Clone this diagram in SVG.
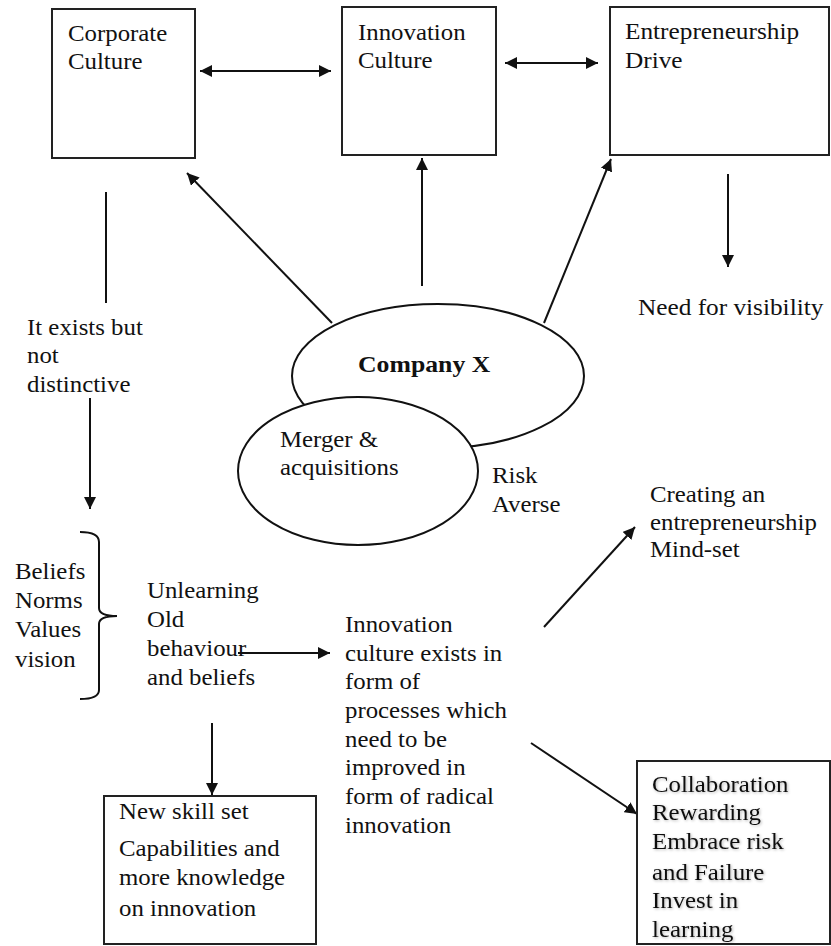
<svg xmlns="http://www.w3.org/2000/svg" width="831" height="946" viewBox="0 0 831 946">
<style>
.t{font-family:"Liberation Serif","Times New Roman",serif;font-size:23px;fill:#111}
.b{font-weight:bold}
.box{fill:#fff;stroke:#222;stroke-width:2}
.ell{fill:#fff;stroke:#111;stroke-width:2}
.ln{fill:none;stroke:#111;stroke-width:2}
</style>
<defs>
<marker id="ah" markerUnits="userSpaceOnUse" markerWidth="13" markerHeight="12" refX="12" refY="6" orient="auto-start-reverse">
<path d="M0,0 L12,6 L0,12 z" fill="#111"/>
</marker>
<filter id="sh" x="-10%" y="-30%" width="130%" height="160%">
<feGaussianBlur in="SourceAlpha" stdDeviation="1.5"/>
<feOffset dx="1" dy="1" result="bl"/>
<feComponentTransfer><feFuncA type="linear" slope="0.3"/></feComponentTransfer>
<feMerge><feMergeNode/><feMergeNode in="SourceGraphic"/></feMerge>
</filter>
</defs>

<g id="connectors">
<line class="ln" x1="200" y1="71" x2="331" y2="71" marker-start="url(#ah)" marker-end="url(#ah)"/>
<line class="ln" x1="505" y1="63" x2="598" y2="63" marker-start="url(#ah)" marker-end="url(#ah)"/>
<line class="ln" x1="332" y1="323" x2="187" y2="173" marker-end="url(#ah)"/>
<line class="ln" x1="422" y1="286" x2="422" y2="158" marker-end="url(#ah)"/>
<line class="ln" x1="544" y1="323" x2="611" y2="159" marker-end="url(#ah)"/>
<line class="ln" x1="728" y1="174" x2="728" y2="267" marker-end="url(#ah)"/>
<line class="ln" x1="106" y1="192" x2="106" y2="303"/>
<line class="ln" x1="90" y1="398" x2="90" y2="509" marker-end="url(#ah)"/>
<line class="ln" x1="238" y1="653" x2="330" y2="653" marker-end="url(#ah)"/>
<line class="ln" x1="212" y1="723" x2="212" y2="795" marker-end="url(#ah)"/>
<line class="ln" x1="544" y1="627" x2="635" y2="527" marker-end="url(#ah)"/>
<line class="ln" x1="531" y1="743" x2="637" y2="814" marker-end="url(#ah)"/>
</g>

<g id="corporate-culture">
<rect class="box" x="52" y="9" width="143" height="149"/>
<text class="t" transform="translate(68,41) scale(1.08 1)"><tspan x="0">Corporate</tspan><tspan x="0" dy="28">Culture</tspan></text>
</g>

<g id="innovation-culture">
<rect class="box" x="342" y="7" width="154" height="148"/>
<text class="t" transform="translate(358,40) scale(1.08 1)"><tspan x="0">Innovation</tspan><tspan x="0" dy="28">Culture</tspan></text>
</g>

<g id="entrepreneurship-drive">
<rect class="box" x="610" y="7" width="219" height="148"/>
<text class="t" transform="translate(625,39) scale(1.1 1)"><tspan x="0">Entrepreneurship</tspan><tspan x="0" dy="29">Drive</tspan></text>
</g>

<g id="need-visibility">
<text class="t" transform="translate(638,315) scale(1.1 1)">Need for visibility</text>
</g>

<g id="company-x">
<ellipse class="ell" cx="438" cy="376" rx="146" ry="72"/>
<text class="t b" transform="translate(358,372) scale(1.12 1)">Company X</text>
</g>

<g id="merger">
<ellipse class="ell" cx="358" cy="471" rx="120" ry="74"/>
<text class="t" transform="translate(280,447) scale(1.08 1)"><tspan x="0">Merger &amp;</tspan><tspan x="0" dy="28">acquisitions</tspan></text>
</g>

<g id="risk-averse">
<text class="t" transform="translate(492,483) scale(1.08 1)"><tspan x="0">Risk</tspan><tspan x="0" dy="29">Averse</tspan></text>
</g>

<g id="exists">
<text class="t" transform="translate(27,335) scale(1.08 1)"><tspan x="0">It exists  but</tspan><tspan x="0" dy="28.5">not</tspan><tspan x="0" dy="28.5">distinctive</tspan></text>
</g>

<g id="beliefs">
<path class="ln" d="M80,532 Q99,532 99,542 L99,608 Q99,616 117,616 Q99,616 99,624 L99,690 Q99,699 80,699"/>
<text class="t" transform="translate(15,579) scale(1.08 1)"><tspan x="0">Beliefs</tspan><tspan x="0" dy="29">Norms</tspan><tspan x="0" dy="29">Values</tspan><tspan x="0" dy="30">vision</tspan></text>
</g>

<g id="unlearning">
<text class="t" transform="translate(147,598) scale(1.08 1)"><tspan x="0">Unlearning</tspan><tspan x="0" dy="29">Old</tspan><tspan x="0" dy="29">behaviour</tspan><tspan x="0" dy="29">and beliefs</tspan></text>
</g>

<g id="innovation-exists">
<text class="t" transform="translate(345,632) scale(1.08 1)"><tspan x="0">Innovation</tspan><tspan x="0" dy="28.7">culture  exists in</tspan><tspan x="0" dy="28.7">form of</tspan><tspan x="0" dy="28.7">processes which</tspan><tspan x="0" dy="28.7">need  to be</tspan><tspan x="0" dy="28.7">improved  in</tspan><tspan x="0" dy="28.7">form of radical</tspan><tspan x="0" dy="28.7">innovation</tspan></text>
</g>

<g id="creating">
<text class="t" transform="translate(650,502) scale(1.08 1)"><tspan x="0">Creating  an</tspan><tspan x="0" dy="28">entrepreneurship</tspan><tspan x="0" dy="27">Mind-set</tspan></text>
</g>

<g id="new-skill">
<rect class="box" x="104" y="796" width="212" height="148"/>
<text class="t" transform="translate(119,819) scale(1.08 1)"><tspan x="0">New skill set</tspan><tspan x="0" dy="37">Capabilities  and</tspan><tspan x="0" dy="29">more  knowledge</tspan><tspan x="0" dy="31">on innovation</tspan></text>
</g>

<g id="collaboration">
<rect class="box" x="637" y="761" width="193" height="183"/>
<text class="t" filter="url(#sh)" transform="translate(652,792) scale(1.08 1)"><tspan x="0">Collaboration</tspan><tspan x="0" dy="28.5">Rewarding</tspan><tspan x="0" dy="28.5">Embrace  risk</tspan><tspan x="0" dy="31">and Failure</tspan><tspan x="0" dy="28.5">Invest in</tspan><tspan x="0" dy="29">learning</tspan></text>
</g>
</svg>
